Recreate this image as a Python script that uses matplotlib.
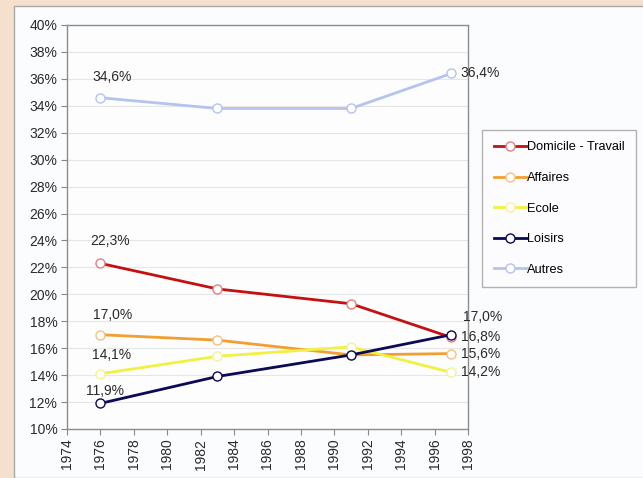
import matplotlib
matplotlib.use("Agg")
import matplotlib.pyplot as plt
from matplotlib.patches import Rectangle
from matplotlib.ticker import FuncFormatter, MultipleLocator

plt.rcParams["font.family"] = ["Liberation Sans", "DejaVu Sans"]

# data (share of trips, %)
years = [1976, 1983, 1991, 1997]
domicile_travail = [22.3, 20.4, 19.3, 16.8]
affaires = [17.0, 16.6, 15.5, 15.6]
ecole = [14.1, 15.4, 16.1, 14.2]
loisirs = [11.9, 13.9, 15.5, 17.0]
autres = [34.6, 33.8, 33.8, 36.4]

series = [
    ("Domicile - Travail", domicile_travail, "#C41010", "#E08080"),
    ("Affaires", affaires, "#F0A030", "#F5C080"),
    ("Ecole", ecole, "#F2F040", "#F5F29A"),
    ("Loisirs", loisirs, "#0A0A55", "#0A0A55"),
    ("Autres", autres, "#B4C4EE", "#B4C4EE"),
]

fig = plt.figure(figsize=(6.43, 4.78), dpi=100)
fig.patch.set_facecolor("#F5E0CD")
fig.patches.append(Rectangle((14 / 643, 0), 1, 1 - 6 / 478, transform=fig.transFigure,
                             facecolor="#FBFCFE", edgecolor="#A8A8A8", lw=1.0, zorder=-1))

ax = fig.add_axes([67 / 643, 1 - 429 / 478, 401 / 643, 404 / 478])
ax.set_facecolor("#FDFDFE")

for name, vals, col, edge in series:
    ax.plot(years, vals, color=col, lw=2.0, marker="o", markersize=6.5,
            markerfacecolor="white", markeredgecolor=edge, markeredgewidth=1.0,
            label=name, zorder=3)

ax.set_xlim(1974, 1998)
ax.set_ylim(10, 40)
ax.xaxis.set_major_locator(MultipleLocator(2))
ax.yaxis.set_major_locator(MultipleLocator(2))
ax.yaxis.set_major_formatter(FuncFormatter(lambda v, p: f"{v:.0f}%"))
ax.tick_params(axis="x", labelrotation=90, labelsize=10, colors="#888888",
               labelcolor="#2A2A2A", length=4, direction="out", pad=3)
ax.tick_params(axis="y", labelsize=10, colors="#888888",
               labelcolor="#2A2A2A", length=4, direction="out", pad=3)
ax.grid(True, axis="y", color="#E6E6E6", lw=0.8)
ax.set_axisbelow(True)
for sp in ax.spines.values():
    sp.set_color("#8C8C8C")
    sp.set_linewidth(1.0)

# value labels at first and last points
first_offsets = [(10, 22), (12, 20), (11, 19), (5, 12), (12, 21)]
for (name, vals, col, edge), off in zip(series, first_offsets):
    ax.annotate(f"{vals[0]:.1f}%".replace(".", ","), (years[0], vals[0]),
                xytext=off, textcoords="offset pixels", ha="center", va="center",
                fontsize=10, color="#2A2A2A")

last_offsets = [(10, 0), (10, 0), (10, 0), (12, 18), (9, 0)]
for (name, vals, col, edge), off in zip(series, last_offsets):
    ax.annotate(f"{vals[-1]:.1f}%".replace(".", ","), (years[-1], vals[-1]),
                xytext=off, textcoords="offset pixels", ha="left", va="center",
                fontsize=10, color="#2A2A2A", annotation_clip=False)

leg = fig.legend(loc="upper left", bbox_to_anchor=(482 / 643, 1 - 130 / 478),
                 borderaxespad=0, fontsize=9.2, frameon=True, fancybox=False,
                 handlelength=2.6, handletextpad=0.0, labelspacing=1.45,
                 borderpad=0.9)
leg.get_frame().set_edgecolor("#A0A0A0")
leg.get_frame().set_linewidth(1.0)
leg.get_frame().set_facecolor("#FDFDFE")

fig.savefig("out.png", dpi=100, facecolor=fig.get_facecolor())
